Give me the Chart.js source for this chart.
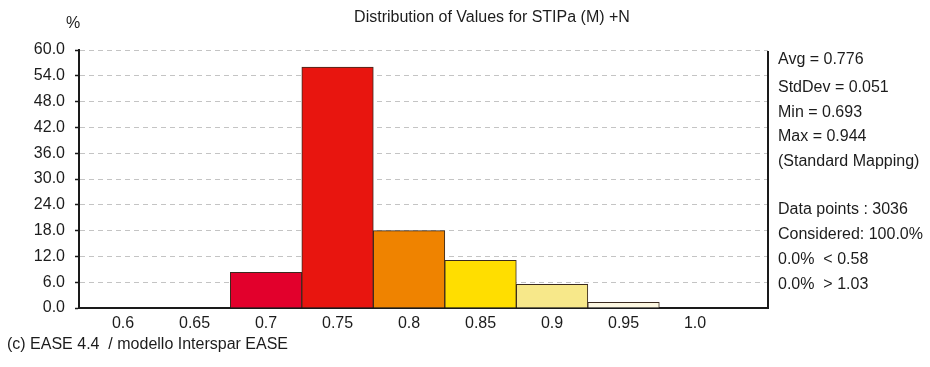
<!DOCTYPE html>
<html>
<head>
<meta charset="utf-8">
<script src="https://cdn.jsdelivr.net/npm/chart.js@4.4.1/dist/chart.umd.min.js"></script>
<style>
  html, body { margin: 0; padding: 0; background: #ffffff; }
  #wrap { width: 930px; height: 367px; position: relative; }
  canvas { display: block; }
</style>
</head>
<body>
<div id="wrap"><canvas id="c" width="930" height="367"></canvas></div>
<script>
// ---- data ----
const categories = ['0.6', '0.65', '0.7', '0.75', '0.8', '0.85', '0.9', '0.95', '1.0'];
const percentValues = [0, 0, 8.3, 56.0, 18.0, 11.1, 5.5, 1.3, 0];
const barColors = ['#e30030', '#e30030', '#e2002c', '#e8150f', '#ef8300', '#ffde00', '#f7e88a', '#fdf8e2', '#ffffff'];
const yTickValues = [0, 6, 12, 18, 24, 30, 36, 42, 48, 54, 60];
const chartTitle = 'Distribution of Values for STIPa (M) +N';
const yUnit = '%';
const statsLines = ['Avg = 0.776', 'StdDev = 0.051', 'Min = 0.693', 'Max = 0.944', '(Standard Mapping)',
                    'Data points : 3036', 'Considered: 100.0%', '0.0%  < 0.58', '0.0%  > 1.03'];
const footerText = '(c) EASE 4.4  / modello Interspar EASE';

// ---- styling / layout ----
const FONT = '"Liberation Sans", Arial, sans-serif';
const TXT = '#1c1c1c';
const statsY = [60, 88, 113, 137, 162, 210, 235, 260, 285];

const decor = {
  id: 'decor',
  afterDraw(chart) {
    const ctx = chart.ctx;
    const a = chart.chartArea;
    ctx.save();
    // right border of plot
    ctx.strokeStyle = '#1a1a1a';
    ctx.lineWidth = 2;
    ctx.beginPath();
    ctx.moveTo(a.right, a.top + 1);
    ctx.lineTo(a.right, a.bottom);
    ctx.stroke();

    ctx.fillStyle = TXT;
    ctx.font = '16px ' + FONT;
    ctx.textBaseline = 'middle';
    ctx.textAlign = 'center';
    ctx.fillText(chartTitle, 492, 18);
    ctx.fillText(yUnit, 73, 24);
    ctx.textAlign = 'left';
    statsLines.forEach((t, i) => ctx.fillText(t, a.right + 10, statsY[i]));
    ctx.fillText(footerText, 7, 345);
    ctx.restore();
  }
};

const xs = categories.map(Number);

new Chart(document.getElementById('c'), {
  type: 'bar',
  data: {
    datasets: [{
      data: xs.map((x, i) => ({ x: x, y: percentValues[i] })),
      backgroundColor: barColors,
      borderColor: '#3a2a1e',
      borderWidth: 1,
      borderSkipped: 'start',
      barPercentage: 1.0,
      categoryPercentage: 1.0
    }]
  },
  options: {
    responsive: false,
    animation: false,
    devicePixelRatio: 1,
    layout: { padding: { left: 0, right: 162, top: 50, bottom: 29 } },
    plugins: { legend: { display: false }, tooltip: { enabled: false }, title: { display: false } },
    scales: {
      x: {
        type: 'linear',
        min: 0.5692,
        max: 1.0510,
        offset: false,
        grid: { display: false, offset: false, drawTicks: false, tickLength: 0 },
        border: { display: true, color: '#1a1a1a', width: 2 },
        afterBuildTicks: (s) => { s.ticks = xs.map(v => ({ value: v })); },
        afterFit: (s) => { s.height = 30; },
        ticks: {
          autoSkip: false, maxRotation: 0, padding: 6,
          color: TXT, font: { family: FONT, size: 16 },
          callback: (v, i) => categories[i]
        }
      },
      y: {
        min: 0, max: 60,
        afterBuildTicks: (s) => { s.ticks = yTickValues.map(v => ({ value: v })); },
        afterFit: (s) => { s.width = 79; },
        grid: {
          color: '#c4c4c4', lineWidth: 1, tickLength: 4,
          tickColor: '#1a1a1a', tickWidth: 1.5, tickBorderDash: [],
          drawTicks: true
        },
        border: { display: true, color: '#1a1a1a', width: 2, dash: [5, 4] },
        ticks: {
          padding: 10, color: TXT, font: { family: FONT, size: 16 },
          callback: (v) => Number(v).toFixed(1)
        }
      }
    }
  },
  plugins: [decor]
});
</script>
</body>
</html>
